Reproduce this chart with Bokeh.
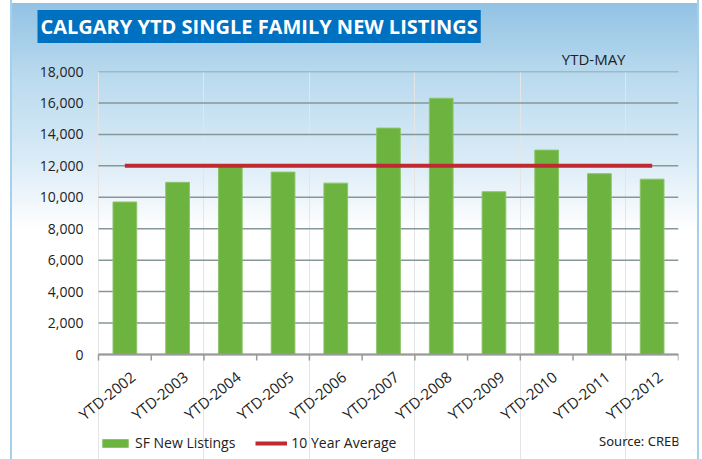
from bokeh.plotting import figure
from bokeh.models import (ColumnDataSource, FixedTicker, NumeralTickFormatter,
                          Title, Legend, LegendItem, Range1d, Label)
from bokeh.core.properties import value
from bokeh.embed import file_html
from bokeh.resources import INLINE

# ---- data ----
categories = ["YTD-2002", "YTD-2003", "YTD-2004", "YTD-2005", "YTD-2006", "YTD-2007",
              "YTD-2008", "YTD-2009", "YTD-2010", "YTD-2011", "YTD-2012"]
new_listings = [9700, 10950, 12050, 11600, 10900, 14400, 16300, 10350, 13000, 11500, 11150]
ten_year_avg = [12000, 12000, 12000, 12000, 12000, 12000, 12000, 12000, 12000, 12000, 12000]
y_ticks = [0, 2000, 4000, 6000, 8000, 10000, 12000, 14000, 16000, 18000]

FONT = "Open Sans"
W, H = 702, 459
FRAME_L, FRAME_R, FRAME_T = 20, 678, 71   # drawing frame (wide, so rotated labels are not clipped)
PLOT_L = 98                                # left edge of the category area
ZERO_PX = 354                              # pixel row of the value 0
n = len(categories)
centers = [i + 0.5 for i in range(n)]
bounds = [float(i) for i in range(n + 1)]
px_per_cat = (FRAME_R - PLOT_L) / n
x_start = -(PLOT_L - FRAME_L) / px_per_cat
y_max = y_ticks[-1]
y_min = -(H - ZERO_PX) / (ZERO_PX - FRAME_T) * y_max

src = ColumnDataSource(dict(x=centers, top=new_listings, avg=ten_year_avg, cat=categories,
                            base=[0] * n))
tick_src = ColumnDataSource(dict(x=bounds, y=[0] * len(bounds)))
grid_src = ColumnDataSource(dict(x0=[bounds[0]] * len(y_ticks), x1=[bounds[-1]] * len(y_ticks),
                                 y=y_ticks))
axis_src = ColumnDataSource(dict(x0=[bounds[0]], x1=[bounds[-1]], y=[y_ticks[0]]))

p = figure(width=W, height=H, output_backend="svg", toolbar_location=None,
           x_range=Range1d(x_start, n), y_range=Range1d(y_min, y_max), x_axis_location=None,
           min_border_left=FRAME_L, min_border_right=W - FRAME_R, min_border_top=FRAME_T,
           min_border_bottom=0)
p.background_fill_alpha = 0
p.border_fill_alpha = 0
p.outline_line_color = None
p.styles = {"background": (
    "linear-gradient(to right, #ffffff 0px, #ffffff 10px, #a6cfec 10px, #a6cfec 12px, "
    "rgba(255,255,255,0) 12px, rgba(255,255,255,0) 697px, #a6cfec 697px, #a6cfec 699px, "
    "#ffffff 699px), "
    "linear-gradient(to bottom, #ffffff 0px, #ffffff 3px, #92c2e4 3px, #b9daee 75px, "
    "#d8eaf6 155px, #ffffff 232px, #ffffff 100%)")}

# horizontal grid lines over the category area only
p.segment(x0="x0", x1="x1", y0="y", y1="y", source=grid_src, line_color="#86979a", line_width=1.5)

bars = p.vbar(x="x", top="top", width=0.45, source=src, fill_color="#6db33f", line_color="#8cc56a",
              line_width=1)
avg_line = p.line(x="x", y="avg", source=src, line_color="#be2a2f", line_width=4)

# y axis (labels pulled in next to the category area)
ya = p.yaxis[0]
ya.ticker = FixedTicker(ticks=y_ticks)
ya.formatter = NumeralTickFormatter(format="0,0")
ya.axis_line_color = None
ya.major_tick_line_color = None
ya.major_tick_out = 0
ya.major_tick_in = 0
ya.minor_tick_line_color = None
ya.minor_tick_out = 0
ya.major_label_text_font = FONT
ya.major_label_text_font_size = "14px"
ya.major_label_text_color = "#222222"
ya.major_label_standoff = -(83 - FRAME_L)
p.ygrid.grid_line_color = None

# category axis at value 0
p.segment(x0="x0", x1="x1", y0="y", y1="y", source=axis_src, line_color="#9a9a9a", line_width=2)
p.ray(x="x", y="y", source=tick_src, length=6, length_units="screen", angle=-90,
      angle_units="deg", line_color="#9a9a9a", line_width=1.5)
p.text(x="x", y="base", text="cat", source=src, angle=0.68, text_align="right",
       text_baseline="middle", x_offset=8, y_offset=20, text_font=value(FONT),
       text_font_size="15px", text_color="#222222")

# titles (first added sits closest to the frame)
p.add_layout(Title(text="YTD-MAY", align="right", offset=53, standoff=6,
                   text_font=FONT, text_font_size="15px", text_font_style="normal",
                   text_color="#222222"), "above")
p.add_layout(Title(text="CALGARY YTD SINGLE FAMILY NEW LISTINGS", align="left", offset=37 - FRAME_L,
                   standoff=1, text_font=FONT, text_font_style="bold", text_font_size="20px",
                   text_color="white", background_fill_color="#0070c0", padding=3), "above")

legend = Legend(items=[LegendItem(label="SF New Listings", renderers=[bars]),
                       LegendItem(label="10 Year Average", renderers=[avg_line])],
                orientation="horizontal", location=(99 - FRAME_L, 7),
                background_fill_alpha=0, border_line_color=None,
                label_text_font=FONT, label_text_font_size="14px", label_text_color="#222222",
                glyph_width=32, glyph_height=10, spacing=20, label_standoff=4, padding=0, margin=0)
p.add_layout(legend, "center")

p.add_layout(Label(x=690 - FRAME_L, y=10, x_units="screen", y_units="screen",
                   text="Source: CREB\u00ae", text_font="Noto Sans", text_font_size="13px",
                   text_color="#222222", text_align="right"))

open("out.html", "w").write(file_html(p, INLINE))
